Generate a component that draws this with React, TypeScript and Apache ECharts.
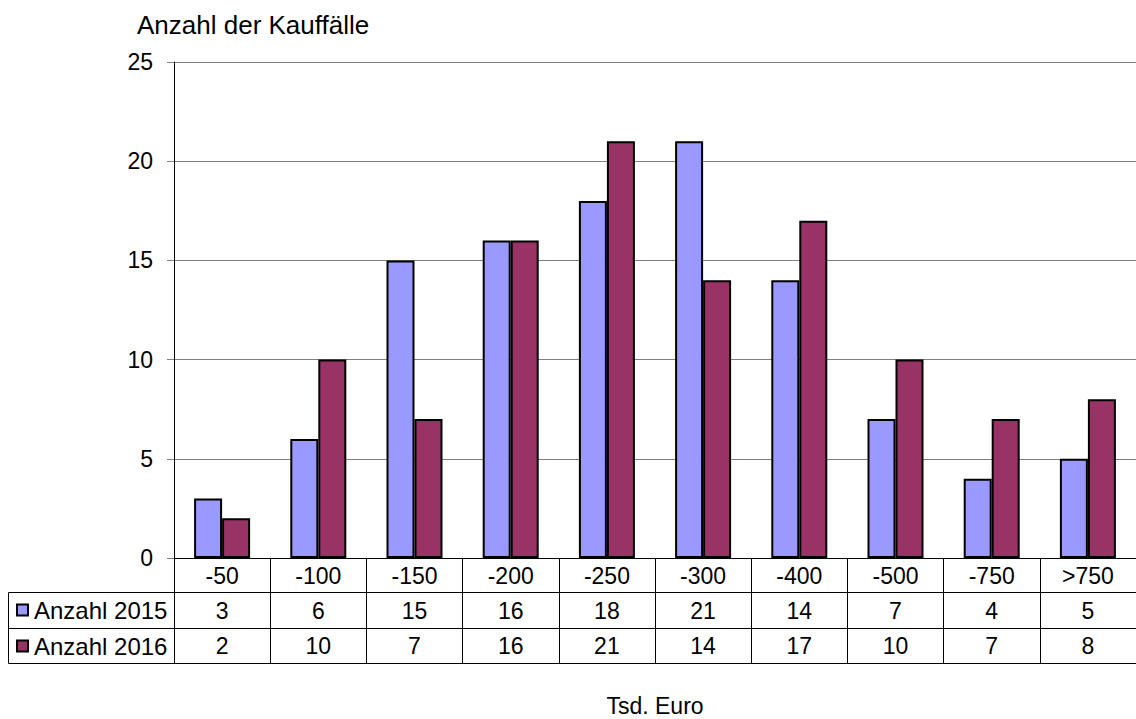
import React, { useEffect, useRef } from "react";
import * as echarts from "echarts";

const categories = ["-50", "-100", "-150", "-200", "-250", "-300", "-400", "-500", "-750", ">750"];
const values2015 = [3, 6, 15, 16, 18, 21, 14, 7, 4, 5];
const values2016 = [2, 10, 7, 16, 21, 14, 17, 10, 7, 8];
const seriesNames = ["Anzahl 2015", "Anzahl 2016"];
const seriesColors = ["#9999FF", "#993366"];
const yTicks = { min: 0, max: 25, interval: 5 };
const titleText = "Anzahl der Kauffälle";
const xName = "Tsd. Euro";

const FONT = "Liberation Sans, Arial, sans-serif";

export default function App() {
  const ref = useRef<HTMLDivElement>(null);
  useEffect(() => {
    document.body.style.margin = "0";
    const chart = echarts.init(ref.current!, undefined, { renderer: "svg" });
    const gridLeft = 174;
    const gridTop = 62;
    const gridBottomY = 558;
    const W = 1136;
    const H = 719;
    const rowH = [34, 36, 35];
    const y1 = gridBottomY + rowH[0];
    const y2 = y1 + rowH[1];
    const y3 = y2 + rowH[2];
    const catAxisBase = {
      type: "category" as const,
      gridIndex: 0,
      position: "bottom" as const,
      boundaryGap: true,
      axisLine: { show: true, lineStyle: { color: "#000", width: 1 } },
      splitLine: { show: false },
      axisPointer: { show: false },
    };
    const labelStyle = { color: "#000", fontSize: 23, fontFamily: FONT, interval: 0 };
    const option: any = {
      animation: false,
      backgroundColor: "#fff",
      textStyle: { fontFamily: FONT },
      title: {
        text: titleText,
        left: 137,
        top: 12,
        padding: 0,
        textStyle: { fontSize: 26, fontWeight: "normal", color: "#000", fontFamily: FONT },
      },
      legend: {
        orient: "vertical",
        left: 16,
        top: 598,
        icon: "rect",
        itemWidth: 11,
        itemHeight: 11,
        itemGap: 12,
        padding: 0,
        selectedMode: false,
        itemStyle: { borderColor: "#000", borderWidth: 2 },
        textStyle: { fontSize: 24, color: "#000", fontFamily: FONT, padding: [0, 0, 0, 1] },
        data: seriesNames,
      },
      grid: {
        left: gridLeft,
        right: 0,
        top: gridTop,
        bottom: H - gridBottomY,
        containLabel: false,
        outerBoundsMode: "none",
      },
      xAxis: [
        {
          ...catAxisBase,
          data: categories,
          axisTick: { show: true, length: rowH[0], lineStyle: { color: "#000" } },
          axisLabel: { ...labelStyle, margin: 6 },
          name: xName,
          nameLocation: "middle",
          nameGap: 136,
          nameTextStyle: { fontSize: 23, color: "#000", fontFamily: FONT },
        },
        {
          ...catAxisBase,
          offset: rowH[0],
          data: values2015.map(String),
          axisTick: { show: true, length: rowH[1], lineStyle: { color: "#000" } },
          axisLabel: { ...labelStyle, margin: 7 },
        },
        {
          ...catAxisBase,
          offset: rowH[0] + rowH[1],
          data: values2016.map(String),
          axisTick: { show: true, length: rowH[2], lineStyle: { color: "#000" } },
          axisLabel: { ...labelStyle, margin: 6 },
        },
      ],
      yAxis: {
        type: "value",
        min: yTicks.min,
        max: yTicks.max,
        interval: yTicks.interval,
        axisLine: { show: true, lineStyle: { color: "#000", width: 1 } },
        axisTick: { show: true, length: 7, lineStyle: { color: "#808080" } },
        axisLabel: { color: "#000", fontSize: 23, fontFamily: FONT, margin: 21 },
        splitLine: { show: true, lineStyle: { color: "#808080", width: 1 } },
      },
      series: seriesNames.map((name, i) => ({
        name,
        type: "bar",
        xAxisIndex: 0,
        data: i === 0 ? values2015 : values2016,
        barWidth: 28,
        barGap: "0%",
        itemStyle: { color: seriesColors[i], borderColor: "#000", borderWidth: 2 },
      })),
      graphic: [
        {
          type: "rect",
          shape: { x: 8.5, y: y1 + 0.5, width: W - 8, height: y3 - y1 },
          style: { fill: "none", stroke: "#000", lineWidth: 1 },
          silent: true,
          z: 10,
        },
        {
          type: "line",
          shape: { x1: 8.5, y1: y2 + 0.5, x2: gridLeft, y2: y2 + 0.5 },
          style: { stroke: "#000", lineWidth: 1 },
          silent: true,
          z: 10,
        },
      ],
    };
    chart.setOption(option);
    return () => chart.dispose();
  }, []);
  return <div ref={ref} style={{ width: 1136, height: 719 }} />;
}
